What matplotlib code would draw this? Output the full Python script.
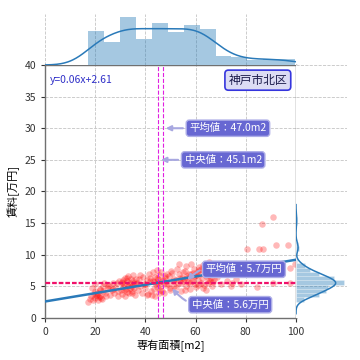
import numpy as np
import matplotlib
matplotlib.use("Agg")
import matplotlib.pyplot as plt

plt.rcParams["font.family"] = ["Noto Sans CJK JP", "DejaVu Sans"]

# =========================
# DATA
# =========================
area_m2 = [
    17.3, 18, 18.5, 19, 19.5, 20, 20, 20.5, 21, 21, 21.5, 22, 22, 22.5, 23, 23, 18.8, 19.8, 20.8, 21.8, 22.8, 23.4,
    24, 24.5, 25, 25.5, 26, 26.5, 27, 27.5, 28, 28.5, 29, 29.5, 25.2, 27.2, 29.2,
    30.2, 30.5, 30.8, 31, 31.2, 31.5, 31.8, 32, 32.2, 32.5, 32.8, 33, 33.2, 33.5, 33.8, 34, 34.2, 34.5, 34.8, 35,
    35.2, 35.5, 35.8, 36, 36.2, 30.6, 31.6, 32.6, 33.6, 34.6, 35.6,
    36.6, 37, 37.5, 38, 38.5, 39, 39.5, 40, 40.5, 41, 41.5, 42, 42.3, 37.8, 39.8, 40.8, 41.8,
    42.8, 43, 43.2, 43.5, 43.8, 44, 44.2, 44.5, 44.8, 45, 45.1, 45.3, 45.6, 46, 46.3, 46.6, 47, 47.3, 47.6, 48,
    48.3, 48.6, 43.4, 44.6, 45.8, 46.8, 47.8,
    49.2, 49.6, 50, 50.5, 51, 51.5, 52, 52.5, 53, 53.5, 54, 54.5, 55, 50.2, 51.2, 52.2, 53.2, 54.2, 55.1, 49.8, 53.8,
    55.5, 55.8, 56, 56.3, 56.6, 57, 57.3, 57.6, 58, 58.3, 58.6, 59, 59.3, 59.6, 60, 60.3, 60.6, 61, 61.3, 56.4,
    57.8, 58.8, 59.8, 60.8, 61.4, 55.6,
    61.8, 62, 62.3, 62.6, 63, 63.3, 63.6, 64, 64.3, 64.6, 65, 65.3, 65.6, 66, 66.3, 66.6, 67, 67.3, 67.6, 62.8,
    64.8, 65.2, 66.8,
    68.5, 70, 71.5, 72.5, 73.7, 74,
    74.4, 76, 78, 80.3, 80.3,
    84.3, 85.4, 86.3,
    87, 91, 91, 92,
    96.7, 97.6, 97.6, 99.6,
]
rent_man = [
    2.6, 3.0, 3.4, 2.8, 3.8, 3.2, 4.3, 3.6, 2.9, 4.0, 3.3, 4.6, 3.5, 3.1, 4.2, 5.0, 4.8, 5.3, 3.7, 4.4, 3.0, 5.6,
    4.0, 3.4, 4.8, 5.2, 3.6, 4.5, 5.5, 3.9, 4.9, 5.6, 4.2, 5.9, 5.0, 4.6, 3.5,
    4.4, 5.6, 3.8, 6.0, 4.9, 5.3, 3.5, 6.3, 4.6, 5.8, 4.1, 5.1, 6.6, 3.9, 5.5, 4.7, 6.1, 5.0, 4.3, 5.9,
    6.8, 4.8, 5.4, 3.7, 6.2, 5.7, 4.5, 6.4, 5.2, 4.0, 5.6,
    5.6, 4.5, 6.2, 5.0, 3.9, 6.5, 5.4, 4.7, 6.0, 3.8, 7.0, 5.8, 4.2, 6.8, 5.3, 3.6, 6.3,
    3.7, 5.9, 7.2, 4.6, 6.5, 3.5, 5.3, 7.6, 4.9, 6.1, 5.6, 3.9, 6.8, 5.0, 7.3, 4.3, 6.0, 5.5, 4.0, 6.7,
    5.2, 7.0, 5.7, 6.3, 4.4, 5.8, 6.4,
    5.3, 6.6, 4.5, 7.1, 5.8, 6.2, 4.9, 7.8, 5.5, 6.9, 4.2, 6.4, 5.9, 7.4, 5.1, 6.0, 8.6, 5.6, 7.2, 4.8, 6.3,
    6.2, 7.5, 5.1, 8.2, 6.6, 5.7, 7.0, 4.6, 6.9, 8.6, 5.9, 6.4, 7.7, 5.3, 6.8, 4.9, 7.3, 6.0, 8.0, 6.3,
    5.5, 7.1, 6.6, 5.2, 7.6, 4.5,
    6.9, 5.6, 7.8, 6.3, 8.3, 5.2, 7.1, 6.6, 4.4, 7.6, 6.0, 8.8, 5.8, 7.2, 6.4, 5.0, 7.4, 6.2, 8.0, 4.8,
    5.5, 6.8, 5.7,
    6.5, 5.3, 8.2, 5.8, 7.1, 5.0,
    5.6, 6.2, 5.3, 10.9, 7.1,
    4.9, 10.9, 14.9,
    10.9, 16.0, 5.6, 11.6,
    11.6, 5.6, 7.9, 8.5,
]

REG_SLOPE = 0.066
REG_INTERCEPT = 2.61
REG_LABEL = "y=0.06x+2.61"
AREA_MEAN, AREA_MEDIAN = 47.0, 45.1
RENT_MEAN, RENT_MEDIAN = 5.7, 5.6
WARD = "神戸市北区"

X_BINS = 13
Y_BINS = 20


def kde_line(values, lo, hi, n=300):
    # gaussian kde (scott), cut=3 like seaborn distplot
    v = np.asarray(values, dtype=float)
    bw = v.std(ddof=1) * len(v) ** (-1 / 5)
    grid = np.linspace(max(lo, v.min() - 3 * bw), min(hi, v.max() + 3 * bw), n)
    z = (grid[:, None] - v[None, :]) / bw
    dens = np.exp(-0.5 * z ** 2).sum(axis=1) / (len(v) * bw * np.sqrt(2 * np.pi))
    return grid, dens


def style_grid(ax):
    ax.grid(True, linestyle="--", color="#c4c4c4", linewidth=0.6)
    ax.set_axisbelow(True)


fig = plt.figure(figsize=(3.6, 3.6), dpi=100)
ax = fig.add_axes([0.125, 0.1167, 0.6972, 0.7028])
ax_top = fig.add_axes([0.125, 0.8194, 0.6972, 0.1406], sharex=ax)
ax_right = fig.add_axes([0.8222, 0.1167, 0.1406, 0.7028], sharey=ax)

x = np.array(area_m2)
y = np.array(rent_man)

# main scatter + regression line
style_grid(ax)
ax.scatter(x, y, s=22, color="red", alpha=0.28, linewidths=0, zorder=2)
xl = np.array([0, 100])
ax.plot(xl, REG_INTERCEPT + REG_SLOPE * xl, color="#2a7ab9", lw=1.8, zorder=3)

ax.axvline(AREA_MEAN, color="#e020e0", ls="--", lw=0.8, zorder=4)
ax.axvline(AREA_MEDIAN, color="#e020e0", ls="--", lw=0.8, zorder=4)
ax.axhline(RENT_MEAN, color="#f0106a", ls="--", lw=0.9, zorder=4)
ax.axhline(RENT_MEDIAN, color="#f0106a", ls="--", lw=0.9, zorder=4)

ax.set_xlim(0, 100)
ax.set_ylim(0, 40)
ax.set_xticks(np.arange(0, 101, 20))
ax.set_yticks(np.arange(0, 41, 5))
ax.tick_params(labelsize=7.5, length=3, width=0.8, colors="#333333")
for s in ax.spines.values():
    s.set_color("#707070")
    s.set_linewidth(1.0)
ax.set_xlabel("専有面積[m2]", fontsize=8, labelpad=2)
ax.set_ylabel("賃料[万円]", fontsize=8, labelpad=3)

ax.text(2, 37.6, REG_LABEL, color="#3030c8", fontsize=7.5, va="center", ha="left")
ax.text(96.5, 37.6, WARD, color="#1a1a4a", fontsize=8.5, va="center", ha="right",
        bbox=dict(boxstyle="round,pad=0.3", fc="#dcdcf4", ec="#3535dd", lw=1.2), zorder=6)

box = dict(boxstyle="round,pad=0.3", fc="#6767d2", ec="#aeaee8", lw=1)
arrow = dict(arrowstyle="-|>", color="#a8a8e0", lw=1.5)
ax.annotate(f"平均値：{AREA_MEAN:.1f}m2", xy=(AREA_MEAN, 30), xytext=(AREA_MEAN + 10.5, 30),
            color="white", fontsize=7.5, ha="left", va="center", bbox=box, arrowprops=arrow, zorder=6)
ax.annotate(f"中央値：{AREA_MEDIAN:.1f}m2", xy=(AREA_MEDIAN, 25), xytext=(AREA_MEDIAN + 10.5, 25),
            color="white", fontsize=7.5, ha="left", va="center", bbox=box, arrowprops=arrow, zorder=6)
ax.annotate(f"平均値：{RENT_MEAN:.1f}万円", xy=(56, RENT_MEAN), xytext=(64, 7.7),
            color="white", fontsize=7.5, ha="left", va="center", bbox=box,
            arrowprops=dict(arrow, connectionstyle="arc3,rad=0.35"), zorder=6)
ax.annotate(f"中央値：{RENT_MEDIAN:.1f}万円", xy=(50, 5.0), xytext=(58.5, 2.1),
            color="white", fontsize=7.5, ha="left", va="center", bbox=box,
            arrowprops=dict(arrow, connectionstyle="arc3,rad=-0.35"), zorder=6)

# top marginal: area distribution
style_grid(ax_top)
ax_top.yaxis.grid(False)
ax_top.hist(x, bins=X_BINS, density=True, color="#1f77b4", alpha=0.4, edgecolor="none")
gx, dx = kde_line(x, 0, 100)
ax_top.plot(gx, dx, color="#2a7ab9", lw=1.1)
ax_top.set_ylim(bottom=0)

# right marginal: rent distribution
style_grid(ax_right)
ax_right.xaxis.grid(False)
ax_right.hist(y, bins=Y_BINS, density=True, orientation="horizontal",
              color="#1f77b4", alpha=0.4, edgecolor="white", linewidth=0.4)
gy, dy = kde_line(y, 0, 40)
ax_right.plot(dy, gy, color="#2a7ab9", lw=1.1)
ax_right.set_xlim(left=0)

for m in (ax_top, ax_right):
    for s in m.spines.values():
        s.set_visible(False)
    m.tick_params(labelleft=False, labelbottom=False, length=0)

fig.savefig("out.png", dpi=100)
